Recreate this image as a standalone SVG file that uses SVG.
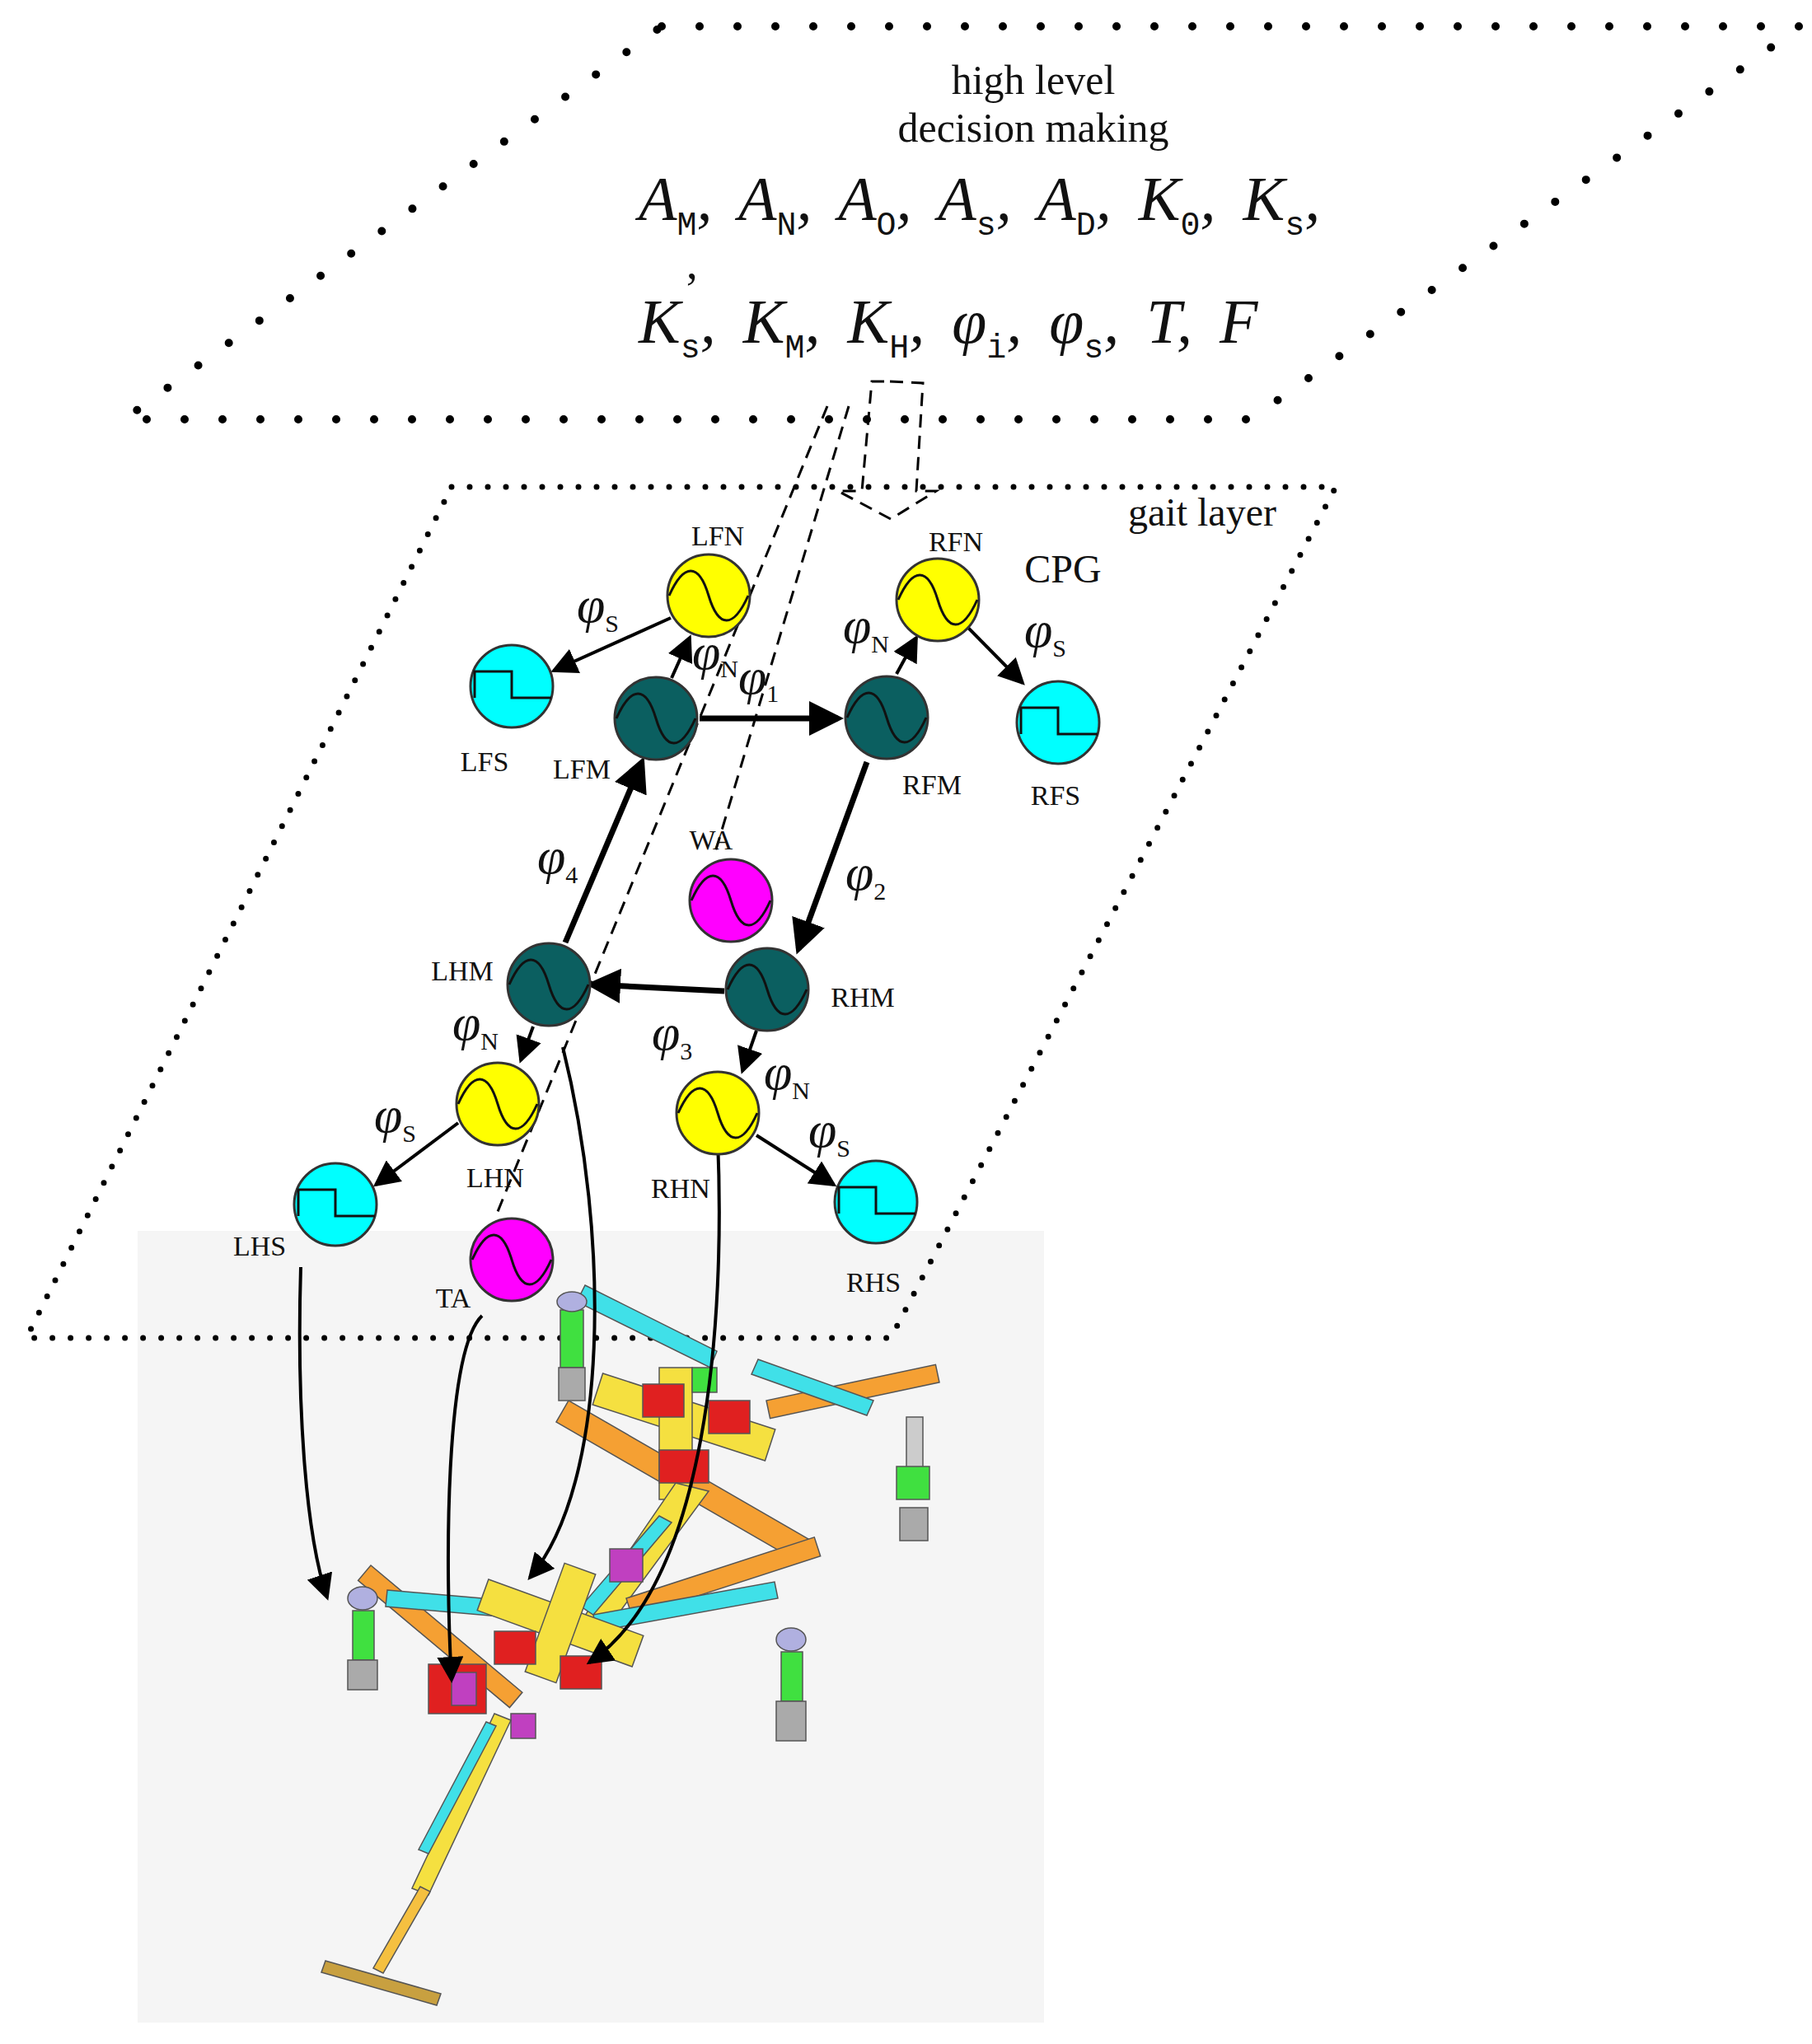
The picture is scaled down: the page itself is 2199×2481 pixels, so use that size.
<svg xmlns="http://www.w3.org/2000/svg" width="2199" height="2481" viewBox="0 0 2199 2481">
<style>
.t{font-family:"Liberation Serif",serif;fill:#111}
.lb{font-size:34px}
.ph{font-size:62px;font-style:italic}
.sb{font-size:30px;font-style:normal}
.fm{font-size:76px;font-style:italic;word-spacing:14px}
.fs{font-size:40px;font-style:normal;font-family:"Liberation Mono",monospace}
.ar{stroke:#000;stroke-width:7;fill:none;marker-end:url(#ah)}
.ar2{stroke:#000;stroke-width:4;fill:none;marker-end:url(#ah2)}
.ds{stroke:#000;stroke-width:3;fill:none;stroke-dasharray:16 10}
.osc{stroke:#333;stroke-width:3}
</style>
<defs>
<marker id="ah" markerWidth="6" markerHeight="6" refX="5" refY="3" orient="auto" markerUnits="strokeWidth"><path d="M0,0L6,3L0,6z" fill="#000"/></marker>
<marker id="ah2" markerWidth="8" markerHeight="8" refX="7" refY="4" orient="auto" markerUnits="strokeWidth"><path d="M0,0L8,4L0,8z" fill="#000"/></marker>
<symbol id="sine" viewBox="-51 -51 102 102" overflow="visible"><path d="M-48,0C-30,-40 -12,-40 0,0S30,40 48,0" fill="none" stroke="#111" stroke-width="3"/></symbol>
<symbol id="sq" viewBox="-51 -51 102 102" overflow="visible"><path d="M-45,14V-18H0V14H48" fill="none" stroke="#111" stroke-width="3"/></symbol>
</defs>
<rect x="167" y="1494" width="1100" height="961" fill="#f5f5f5"/>
<g id="planes" fill="none" stroke="#000" stroke-linecap="round">
<path d="M803,32H2185L1518,509H151Z" stroke-width="10" stroke-dasharray="0 46"/>
<path d="M548,591H1621L1081,1624H32Z" stroke-width="7" stroke-dasharray="0 22"/>
</g>
<g id="robot">
<g stroke="#555" stroke-width="1.5">
<rect x="690" y="1700" width="340" height="30" fill="#f5a033" transform="rotate(30 690 1700)"/>
<rect x="930" y="1700" width="210" height="22" fill="#f5a033" transform="rotate(-12 930 1700)"/>
<polygon points="710,1560 870,1640 862,1660 700,1580" fill="#40e0e8"/>
<polygon points="920,1650 1060,1700 1052,1718 912,1668" fill="#40e0e8"/>
<rect x="720" y="1700" width="220" height="40" fill="#f5e040" transform="rotate(18 830 1720)"/>
<rect x="800" y="1660" width="40" height="160" fill="#f5e040"/>
<rect x="780" y="1680" width="50" height="40" fill="#e02020"/>
<rect x="860" y="1700" width="50" height="40" fill="#e02020"/>
<rect x="800" y="1760" width="60" height="40" fill="#e02020"/>
<rect x="840" y="1660" width="30" height="30" fill="#40e040"/>
<rect x="680" y="1590" width="28" height="70" fill="#40e040"/>
<ellipse cx="694" cy="1580" rx="18" ry="12" fill="#b0b0e0"/>
<rect x="678" y="1660" width="32" height="40" fill="#aaa"/>
<rect x="1100" y="1720" width="20" height="90" fill="#ccc"/>
<rect x="1088" y="1780" width="40" height="40" fill="#40e040"/>
<rect x="1092" y="1830" width="34" height="40" fill="#aaa"/>
<polygon points="820,1800 860,1810 720,2000 690,1990" fill="#f5e040"/>
<polygon points="800,1840 815,1848 720,1960 705,1950" fill="#40e0e8"/>
<rect x="450" y="1900" width="240" height="24" fill="#f5a033" transform="rotate(40 450 1900)"/>
<polygon points="470,1930 700,1950 698,1970 468,1950" fill="#40e0e8"/>
<rect x="760" y="1940" width="240" height="24" fill="#f5a033" transform="rotate(-18 760 1940)"/>
<polygon points="720,1960 940,1920 944,1940 724,1980" fill="#40e0e8"/>
<rect x="580" y="1950" width="200" height="40" fill="#f5e040" transform="rotate(20 680 1970)"/>
<rect x="660" y="1900" width="40" height="140" fill="#f5e040" transform="rotate(20 680 1970)"/>
<rect x="520" y="2020" width="70" height="60" fill="#e02020"/>
<rect x="600" y="1980" width="50" height="40" fill="#e02020"/>
<rect x="680" y="2010" width="50" height="40" fill="#e02020"/>
<rect x="740" y="1880" width="40" height="40" fill="#c040c0"/>
<rect x="620" y="2080" width="30" height="30" fill="#c040c0"/>
<rect x="548" y="2030" width="30" height="40" fill="#c040c0"/>
<ellipse cx="440" cy="1940" rx="18" ry="14" fill="#b0b0e0"/>
<rect x="428" y="1955" width="26" height="60" fill="#40e040"/>
<rect x="422" y="2015" width="36" height="36" fill="#aaa"/>
<ellipse cx="960" cy="1990" rx="18" ry="14" fill="#b0b0e0"/>
<rect x="948" y="2005" width="26" height="60" fill="#40e040"/>
<rect x="942" y="2065" width="36" height="48" fill="#aaa"/>
<polygon points="600,2080 620,2088 520,2300 500,2292" fill="#f5e040"/>
<polygon points="590,2090 602,2095 520,2250 508,2245" fill="#40e0e8"/>
<polygon points="510,2290 522,2296 465,2395 453,2389" fill="#f5c040"/>
<polygon points="395,2380 535,2420 530,2434 390,2394" fill="#c8a040"/>
</g>
</g>
<g id="connectors">
<path class="ds" d="M1004,493L601,1478"/>
<path class="ds" d="M1030,493L866,1041"/>
<path class="ds" d="M1080,463L1120,465L1112,596L1136,596L1081,630L1017,596L1046,596L1058,463Z" stroke-dasharray="12 8"/>
<path class="ar" d="M849,872H1017"/>
<path class="ar" d="M1052,925L969,1152"/>
<path class="ar" d="M879,1203L718,1195"/>
<path class="ar" d="M686,1144L779,925"/>
<path class="ar2" d="M815,823L837,774"/>
<path class="ar2" d="M1088,818L1112,774"/>
<path class="ar2" d="M814,750L672,814"/>
<path class="ar2" d="M1173,760L1241,829"/>
<path class="ar2" d="M647,1246L632,1287"/>
<path class="ar2" d="M918,1251L901,1300"/>
<path class="ar2" d="M556,1363L456,1438"/>
<path class="ar2" d="M918,1378L1012,1438"/>
<path class="ar2" d="M365,1538C360,1700 370,1860 397,1939"/>
<path class="ar2" d="M683,1271C740,1500 740,1800 643,1915"/>
<path class="ar2" d="M585,1597C540,1640 540,1900 548,2039"/>
<path class="ar2" d="M871,1383C880,1600 860,1920 715,2018"/>
</g>
<g id="LFN"><circle class="osc" cx="860" cy="723" r="50" fill="#ffff00"/><use href="#sine" x="809" y="672" width="102" height="102"/></g>
<g id="RFN"><circle class="osc" cx="1138" cy="728" r="50" fill="#ffff00"/><use href="#sine" x="1087" y="677" width="102" height="102"/></g>
<g id="LFS"><circle class="osc" cx="621" cy="833" r="50" fill="#00ffff"/><use href="#sq" x="570" y="782" width="102" height="102"/></g>
<g id="RFS"><circle class="osc" cx="1284" cy="877" r="50" fill="#00ffff"/><use href="#sq" x="1233" y="826" width="102" height="102"/></g>
<g id="LFM"><circle class="osc" cx="796" cy="872" r="50" fill="#0b5f60"/><use href="#sine" x="745" y="821" width="102" height="102"/></g>
<g id="RFM"><circle class="osc" cx="1076" cy="871" r="50" fill="#0b5f60"/><use href="#sine" x="1025" y="820" width="102" height="102"/></g>
<g id="WA"><circle class="osc" cx="887" cy="1093" r="50" fill="#ff00ff"/><use href="#sine" x="836" y="1042" width="102" height="102"/></g>
<g id="LHM"><circle class="osc" cx="666" cy="1195" r="50" fill="#0b5f60"/><use href="#sine" x="615" y="1144" width="102" height="102"/></g>
<g id="RHM"><circle class="osc" cx="931" cy="1201" r="50" fill="#0b5f60"/><use href="#sine" x="880" y="1150" width="102" height="102"/></g>
<g id="LHN"><circle class="osc" cx="604" cy="1340" r="50" fill="#ffff00"/><use href="#sine" x="553" y="1289" width="102" height="102"/></g>
<g id="RHN"><circle class="osc" cx="871" cy="1351" r="50" fill="#ffff00"/><use href="#sine" x="820" y="1300" width="102" height="102"/></g>
<g id="LHS"><circle class="osc" cx="407" cy="1462" r="50" fill="#00ffff"/><use href="#sq" x="356" y="1411" width="102" height="102"/></g>
<g id="RHS"><circle class="osc" cx="1063" cy="1459" r="50" fill="#00ffff"/><use href="#sq" x="1012" y="1408" width="102" height="102"/></g>
<g id="TA"><circle class="osc" cx="621" cy="1529" r="50" fill="#ff00ff"/><use href="#sine" x="570" y="1478" width="102" height="102"/></g>
<g id="labels" class="t">
<text x="1254" y="114" font-size="50" text-anchor="middle">high level</text>
<text x="1254" y="172" font-size="50" text-anchor="middle">decision making</text>
<text class="fm" y="267"><tspan x="775">A</tspan><tspan class="fs" dy="18">M</tspan><tspan dy="-18">, A</tspan><tspan class="fs" dy="18">N</tspan><tspan dy="-18">, A</tspan><tspan class="fs" dy="18">O</tspan><tspan dy="-18">, A</tspan><tspan class="fs" dy="18">s</tspan><tspan dy="-18">, A</tspan><tspan class="fs" dy="18">D</tspan><tspan dy="-18">, K</tspan><tspan class="fs" dy="18">0</tspan><tspan dy="-18">, K</tspan><tspan class="fs" dy="18">s</tspan><tspan dy="-18">,</tspan></text>
<text class="fm" y="416"><tspan x="775">K</tspan><tspan class="fs" dy="18">s</tspan><tspan dy="-18">, K</tspan><tspan class="fs" dy="18">M</tspan><tspan dy="-18">, K</tspan><tspan class="fs" dy="18">H</tspan><tspan dy="-18">, φ</tspan><tspan class="fs" dy="18">i</tspan><tspan dy="-18">, φ</tspan><tspan class="fs" dy="18">s</tspan><tspan dy="-18">, T, F</tspan></text>
<text x="830" y="370" font-size="56">’</text>
<text class="lb" x="871" y="662" text-anchor="middle">LFN</text>
<text class="lb" x="1160" y="669" text-anchor="middle">RFN</text>
<text x="1290" y="707" font-size="48" text-anchor="middle">CPG</text>
<text x="1459" y="638" font-size="48" text-anchor="middle">gait layer</text>
<text class="lb" x="588" y="936" text-anchor="middle">LFS</text>
<text class="lb" x="706" y="945" text-anchor="middle">LFM</text>
<text class="lb" x="1131" y="964" text-anchor="middle">RFM</text>
<text class="lb" x="1281" y="977" text-anchor="middle">RFS</text>
<text class="lb" x="863" y="1031" text-anchor="middle">WA</text>
<text class="lb" x="561" y="1190" text-anchor="middle">LHM</text>
<text class="lb" x="1047" y="1222" text-anchor="middle">RHM</text>
<text class="lb" x="601" y="1441" text-anchor="middle">LHN</text>
<text class="lb" x="826" y="1454" text-anchor="middle">RHN</text>
<text class="lb" x="315" y="1524" text-anchor="middle">LHS</text>
<text class="lb" x="1060" y="1568" text-anchor="middle">RHS</text>
<text class="lb" x="550" y="1587" text-anchor="middle">TA</text>
<text class="ph" x="700" y="755">φ<tspan class="sb" dy="12">S</tspan></text>
<text class="ph" x="840" y="812" font-size="50">φ<tspan class="sb" dy="10">N</tspan></text>
<text class="ph" x="896" y="842" font-size="50">φ<tspan class="sb" dy="10">1</tspan></text>
<text class="ph" x="1023" y="780">φ<tspan class="sb" dy="12">N</tspan></text>
<text class="ph" x="1243" y="785">φ<tspan class="sb" dy="12">S</tspan></text>
<text class="ph" x="652" y="1060">φ<tspan class="sb" dy="12">4</tspan></text>
<text class="ph" x="1026" y="1080">φ<tspan class="sb" dy="12">2</tspan></text>
<text class="ph" x="549" y="1262">φ<tspan class="sb" dy="12">N</tspan></text>
<text class="ph" x="791" y="1274">φ<tspan class="sb" dy="12">3</tspan></text>
<text class="ph" x="927" y="1322">φ<tspan class="sb" dy="12">N</tspan></text>
<text class="ph" x="454" y="1374">φ<tspan class="sb" dy="12">S</tspan></text>
<text class="ph" x="981" y="1392">φ<tspan class="sb" dy="12">S</tspan></text>
</g>
</svg>
